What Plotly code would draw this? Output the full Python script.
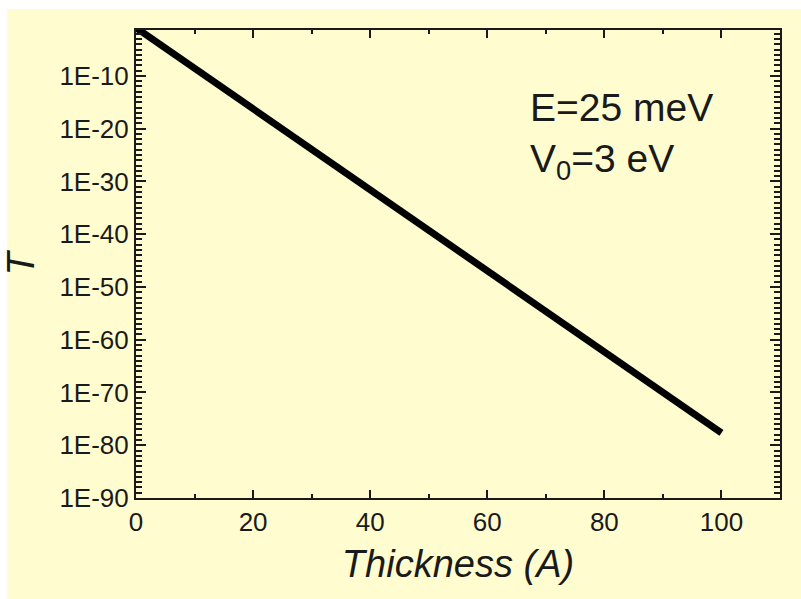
import plotly.graph_objects as go

# Data
thickness = [0, 10, 20, 30, 40, 50, 60, 70, 80, 90, 100]
transmission = [1.3e-1, 2.8e-9, 5.9e-17, 1.3e-24, 2.6e-32, 5.5e-40,
                1.2e-47, 2.5e-55, 5.3e-63, 1.1e-70, 2.3e-78]

x_ticks = [0, 20, 40, 60, 80, 100]
y_exponents = [-90, -80, -70, -60, -50, -40, -30, -20, -10]
y_tickvals = [10.0 ** e for e in y_exponents]
y_ticktext = ["1E%d" % e for e in y_exponents]
y_minor = [10.0 ** e for e in range(-89, 0) if e % 10 != 0]

BG = "#FFFDCF"
INK = "#1a1a1a"
FONT = "Liberation Sans, Arial, sans-serif"

fig = go.Figure()
fig.add_trace(go.Scatter(
    x=thickness, y=transmission, mode="lines",
    line=dict(color="black", width=7),
    showlegend=False, hoverinfo="skip",
))

fig.update_layout(
    width=801, height=599,
    margin=dict(l=136, r=21, t=30, b=101),
    paper_bgcolor=BG, plot_bgcolor=BG,
    font=dict(family=FONT, color=INK),
    xaxis=dict(
        range=[0, 110], tickvals=x_ticks, ticks="inside", ticklen=8, tickwidth=2,
        tickcolor=INK, showline=True, linecolor=INK, linewidth=2, mirror="allticks",
        showgrid=False, zeroline=False,
        tickfont=dict(size=26, family=FONT, color=INK),
        minor=dict(dtick=10, tick0=0, ticks="inside", ticklen=4, tickwidth=2, tickcolor=INK, showgrid=False),
        title=dict(text="<i>Thickness (A)</i>", font=dict(size=38, family=FONT, color=INK), standoff=14),
    ),
    yaxis=dict(
        type="log", range=[-90, -1.3], tickmode="array",
        tickvals=y_tickvals, ticktext=y_ticktext,
        ticks="inside", ticklen=10, tickwidth=2, tickcolor=INK,
        showline=True, linecolor=INK, linewidth=2, mirror="allticks",
        showgrid=False, zeroline=False,
        tickfont=dict(size=26, family=FONT, color=INK),
        minor=dict(tickmode="array", tickvals=y_minor, ticks="inside", ticklen=6, tickwidth=2, tickcolor=INK, showgrid=False),
        title=dict(text="<i>T</i>", font=dict(size=38, family=FONT, color=INK), standoff=14),
    ),
    shapes=[
        dict(type="rect", xref="paper", yref="paper", x0=-0.25, x1=1.1, y0=1.045, y1=1.1,
             fillcolor="white", line=dict(width=0), layer="below"),
        dict(type="rect", xref="paper", yref="paper", x0=-0.25, x1=-0.2003, y0=-0.3, y1=1.1,
             fillcolor="white", line=dict(width=0), layer="below"),
    ],
    annotations=[
        dict(text="E=25 meV<br>V<sub>0</sub>=3 eV", xref="paper", yref="paper",
             x=0.6087, y=0.884, xanchor="left", yanchor="top", align="left",
             showarrow=False, font=dict(size=39, family=FONT, color=INK)),
    ],
)

fig.write_html("out.html")
